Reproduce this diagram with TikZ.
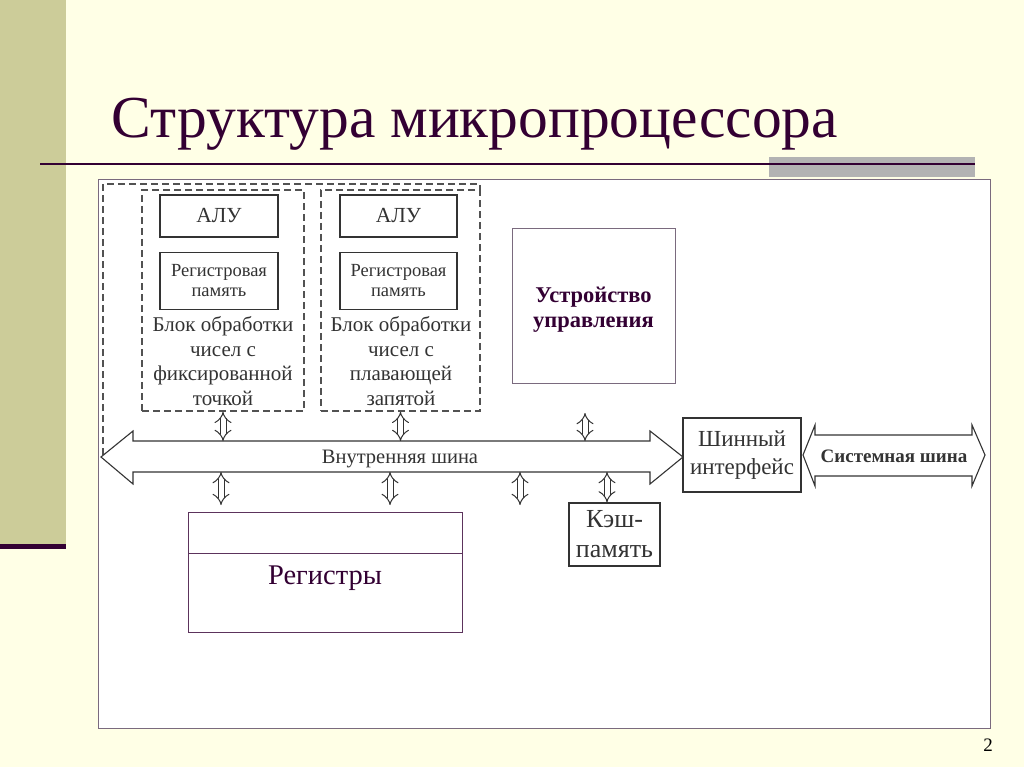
\documentclass[tikz,border=0pt]{standalone}
\usepackage{fontspec}
\setmainfont{Liberation Serif}
\usetikzlibrary{arrows.meta}
\definecolor{bg}{HTML}{FFFFE6}
\definecolor{strip}{HTML}{CCCC99}
\definecolor{dark}{HTML}{330033}
\definecolor{ink}{HTML}{333333}
\definecolor{frame}{HTML}{7A6A7E}
\definecolor{bar}{HTML}{B3B3B3}
\begin{document}
\begin{tikzpicture}[x=1pt,y=-1pt,
  box/.style={draw=ink, line width=0.9pt, inner sep=0pt, align=center, text=ink, font=\fontsize{17}{24}\selectfont},
  dbox/.style={box, dash pattern=on 7pt off 4pt, line width=1.6pt, draw=ink!85},
  alubox/.style={box, line width=1.7pt},
  txt/.style={inner sep=0pt, align=center, text=ink},
  dbl/.style={draw=ink, line width=1pt, double=white, double distance=5pt, {Implies}-{Implies}},
  bigarrow/.style={draw=ink, line width=1.1pt, fill=white, line join=miter}]
\useasboundingbox (0,0) rectangle (1024,767);
\fill[bg] (0,0) rectangle (1024,767);
\fill[strip] (0,0) rectangle (66,546);
\fill[dark] (0,544) rectangle (66,549);
\fill[bar] (769,157) rectangle (975,177);
\draw[dark, line width=2.5pt] (40,164) -- (975,164);
\node[inner sep=0pt, text=dark, font=\fontsize{59.5}{64}\selectfont] (title) at (475,124) {Структура микропроцессора};
\draw[frame, fill=white, line width=1pt] (98,180) rectangle (990,728);
% outer dashed contour
\draw[dash pattern=on 7pt off 4pt, line width=1.6pt, draw=ink!85] (103,455) -- (103,184) -- (480,184) -- (480,192);
% FP blocks
\node[dbox, minimum width=162pt, minimum height=221pt] (b1) at (223,300.5) {};
\node[dbox, minimum width=159pt, minimum height=221pt] (b2) at (400.5,300.5) {};
\node[alubox, minimum width=118pt, minimum height=42pt, font=\fontsize{21.5}{24}\selectfont] (alu1) at (219,216) {АЛУ};
\node[alubox, minimum width=117pt, minimum height=42pt, font=\fontsize{21.5}{24}\selectfont] (alu2) at (398.5,216) {АЛУ};
\node[alubox, minimum width=118pt, minimum height=57pt, font=\fontsize{18.5}{20}\selectfont] (rp1) at (219,281) {Регистровая\\память};
\node[alubox, minimum width=117pt, minimum height=57pt, font=\fontsize{18.5}{20}\selectfont] (rp2) at (398.5,281) {Регистровая\\память};
\node[txt, font=\fontsize{21}{24.5}\selectfont] (t1) at (223,361) {Блок обработки\\чисел с\\фиксированной\\точкой};
\node[txt, font=\fontsize{21}{24.5}\selectfont] (t2) at (401,361) {Блок обработки\\чисел с\\плавающей\\запятой};
% control unit
\node[draw=frame, line width=1pt, minimum width=163pt, minimum height=154pt, inner sep=0pt] (cu) at (593.5,306) {};
\node[txt, text=dark, font=\bfseries\fontsize{22.5}{25}\selectfont] (cut) at (593.5,310) {Устройство\\управления};
% internal bus
\draw[bigarrow] (101,457) -- (133,431) -- (133,441) -- (650,441) -- (650,431) -- (683,457) -- (650,484) -- (650,472) -- (133,472) -- (133,484) -- cycle;
\node[txt, font=\fontsize{20.5}{22}\selectfont] (bus) at (400,459) {Внутренняя шина};
% bus interface
\node[box, line width=1.2pt, minimum width=118pt, minimum height=74pt, font=\fontsize{23}{28}\selectfont] (biu) at (742,455) {Шинный\\интерфейс};
% system bus
\draw[bigarrow] (803,455) -- (815,425) -- (815,435) -- (972,435) -- (972,425) -- (985,455) -- (972,486) -- (972,476) -- (815,476) -- (815,486) -- cycle;
\node[txt, font=\bfseries\fontsize{19}{20}\selectfont] (sys) at (894,456) {Системная шина};
% cache
\node[box, line width=1.2pt, minimum width=91pt, minimum height=63pt, font=\fontsize{26}{30}\selectfont] (cache) at (614.5,534.5) {Кэш-\\память};
% registers
\node[draw=dark!80, line width=1pt, minimum width=274pt, minimum height=120pt, inner sep=0pt] (regs) at (325,572) {};
\draw[dark!80, line width=0.8pt] (188,553) -- (462,553);
\node[txt, text=dark, font=\fontsize{28.5}{30}\selectfont] (regt) at (325,578) {Регистры};
% connector arrows
\coordinate (cuA) at (585,413);
\draw[dbl] (b1.south) -- (b1.south |- 0,441);
\draw[dbl] (b2.south) -- (b2.south |- 0,441);
\draw[dbl] (cuA) -- (cuA |- 0,441);
\coordinate (r1) at (221,505);
\coordinate (r2) at (390,505);
\coordinate (r3) at (520,505);
\draw[dbl] (r1 |- 0,472) -- (r1);
\draw[dbl] (r2 |- 0,472) -- (r2);
\draw[dbl] (r3 |- 0,472) -- (r3);
\draw[dbl] (607,472) -- (cache.north -| 607,0);
\node[inner sep=0pt, font=\fontsize{19}{20}\selectfont] (pg) at (988,745) {2};
\end{tikzpicture}
\end{document}
